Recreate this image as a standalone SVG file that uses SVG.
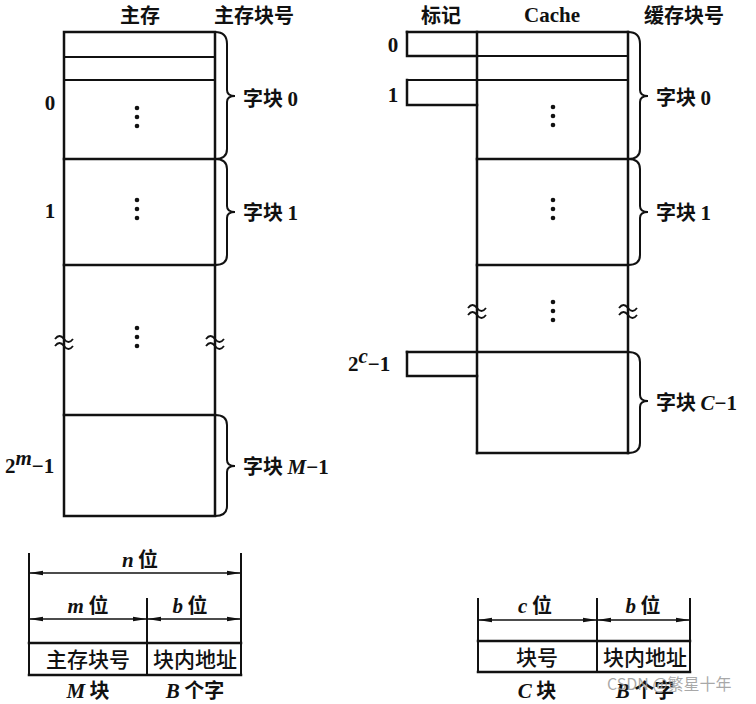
<svg xmlns="http://www.w3.org/2000/svg" width="756" height="704" viewBox="0 0 756 704">
<defs>
<style>
.ln{stroke:#111;stroke-width:2.5;fill:none;stroke-linecap:square}
.th{stroke:#111;stroke-width:2;fill:none}
.br{stroke:#111;stroke-width:2;fill:none}
.ar{stroke:#111;stroke-width:1.6;fill:none}
.zh{font-family:"Noto Sans CJK SC","Noto Sans",sans-serif;font-weight:700;font-size:20px;fill:#111}
.zr{font-family:"Noto Sans CJK SC","Noto Sans",sans-serif;font-weight:500;font-size:21px;fill:#111}
.sf{font-family:"Liberation Serif","DejaVu Serif",serif;font-weight:700;font-size:21px;fill:#111}
.it{font-family:"Liberation Serif","DejaVu Serif",serif;font-weight:700;font-style:italic;font-size:21px;fill:#111}
.dot{fill:#111}
.wv{stroke:#111;stroke-width:1.8;fill:none}
.wm{font-family:"Noto Sans CJK SC","Noto Sans",sans-serif;font-size:16px;fill:#999;fill-opacity:0.85}
</style>
<marker id="ah" viewBox="0 0 14 6" refX="13" refY="3" markerWidth="14" markerHeight="6" markerUnits="userSpaceOnUse" orient="auto-start-reverse">
<path d="M0,0.8 L14,3 L0,5.2 Z" fill="#111"/>
</marker>
<g id="dots3"><circle cx="0" cy="0" r="2.3"/><circle cx="0" cy="9" r="2.3"/><circle cx="0" cy="18" r="2.3"/></g>
<g id="wave"><path d="M-9,-2 q4.5,-6 9,0 t9,0"/><path d="M-9,5 q4.5,-6 9,0 t9,0"/></g>
</defs>
<rect width="756" height="704" fill="#fff"/>

<!-- Headers -->
<g id="headers">
<text class="zh" x="140" y="23" text-anchor="middle">主存</text>
<text class="zh" x="254" y="23" text-anchor="middle">主存块号</text>
<text class="zh" x="441" y="23" text-anchor="middle">标记</text>
<text class="sf" x="552" y="22" text-anchor="middle">Cache</text>
<text class="zh" x="684" y="23" text-anchor="middle">缓存块号</text>
</g>

<!-- Main memory -->
<g id="main-memory">
<rect class="ln" x="64" y="32" width="151" height="484"/>
<line class="th" x1="64" y1="57" x2="215" y2="57"/>
<line class="th" x1="64" y1="80" x2="215" y2="80"/>
<line class="ln" x1="64" y1="159" x2="215" y2="159"/>
<line class="ln" x1="64" y1="265" x2="215" y2="265"/>
<line class="ln" x1="64" y1="415" x2="215" y2="415"/>
<g class="dot"><use href="#dots3" x="137" y="108"/><use href="#dots3" x="137" y="200"/><use href="#dots3" x="137" y="328"/></g>
<g class="wv"><use href="#wave" x="64" y="341"/><use href="#wave" x="215" y="341"/></g>
<text class="sf" x="50" y="110" text-anchor="middle">0</text>
<text class="sf" x="50" y="218" text-anchor="middle">1</text>
<text class="sf" x="5" y="473">2<tspan class="it" font-size="13" dy="-8">m</tspan><tspan dy="8">−1</tspan></text>
</g>

<g id="main-braces">
<path class="br" d="M215,32 Q227,32 227,44 L227,90 Q227,96 235,96 Q227,96 227,102 L227,149 Q227,159 215,159"/>
<path class="br" d="M215,159 Q227,159 227,169 L227,206 Q227,212 235,212 Q227,212 227,218 L227,255 Q227,265 215,265"/>
<path class="br" d="M215,415 Q227,415 227,425 L227,460 Q227,466 235,466 Q227,466 227,472 L227,506 Q227,516 215,516"/>
<text class="zh" x="243" y="106">字块 <tspan class="sf">0</tspan></text>
<text class="zh" x="243" y="220">字块 <tspan class="sf">1</tspan></text>
<text class="zh" x="243" y="474">字块 <tspan class="it">M</tspan><tspan class="sf">−1</tspan></text>
</g>

<!-- Cache -->
<g id="cache">
<line class="ln" x1="477" y1="32" x2="477" y2="453"/>
<line class="ln" x1="628" y1="32" x2="628" y2="453"/>
<line class="ln" x1="477" y1="453" x2="628" y2="453"/>
<line class="ln" x1="407" y1="32" x2="628" y2="32"/>
<line class="th" x1="407" y1="56" x2="628" y2="56"/>
<line class="th" x1="407" y1="80" x2="628" y2="80"/>
<line class="ln" x1="477" y1="159" x2="628" y2="159"/>
<line class="ln" x1="477" y1="265" x2="628" y2="265"/>
<line class="ln" x1="407" y1="352" x2="628" y2="352"/>
<g class="dot"><use href="#dots3" x="553" y="107"/><use href="#dots3" x="553" y="200"/><use href="#dots3" x="553" y="302"/></g>
<g class="wv"><use href="#wave" x="477" y="310"/><use href="#wave" x="628" y="310"/></g>
</g>

<g id="tags">
<path class="ln" d="M407,32 L407,56 L477,56"/>
<path class="ln" d="M407,80 L407,105 L477,105"/>
<path class="ln" d="M407,352 L407,376 L477,376"/>
<text class="sf" x="393" y="52" text-anchor="middle">0</text>
<text class="sf" x="393" y="102" text-anchor="middle">1</text>
<text class="sf" x="348" y="371">2<tspan class="it" font-size="13" dy="-8">c</tspan><tspan dy="8">−1</tspan></text>
</g>

<g id="cache-braces">
<path class="br" d="M628,32 Q640,32 640,44 L640,90 Q640,96 648,96 Q640,96 640,102 L640,149 Q640,159 628,159"/>
<path class="br" d="M628,159 Q640,159 640,169 L640,206 Q640,212 648,212 Q640,212 640,218 L640,255 Q640,265 628,265"/>
<path class="br" d="M628,352 Q640,352 640,362 L640,395 Q640,401 648,401 Q640,401 640,407 L640,443 Q640,453 628,453"/>
<text class="zh" x="656" y="105">字块 <tspan class="sf">0</tspan></text>
<text class="zh" x="656" y="220">字块 <tspan class="sf">1</tspan></text>
<text class="zh" x="656" y="410">字块 <tspan class="it">C</tspan><tspan class="sf">−1</tspan></text>
</g>

<!-- Main memory address format -->
<g id="main-address">
<line class="th" x1="29" y1="553" x2="29" y2="675"/>
<line class="th" x1="241" y1="553" x2="241" y2="675"/>
<line class="th" x1="147" y1="598" x2="147" y2="675"/>
<line class="ln" x1="29" y1="643" x2="241" y2="643"/>
<line class="ln" x1="29" y1="675" x2="241" y2="675"/>
<text class="zr" x="88" y="667" text-anchor="middle">主存块号</text>
<text class="zr" x="195" y="667" text-anchor="middle">块内地址</text>
<text class="zh" x="140" y="567" text-anchor="middle"><tspan class="it">n</tspan> 位</text>
<text class="zh" x="88" y="613" text-anchor="middle"><tspan class="it">m</tspan> 位</text>
<text class="zh" x="190" y="613" text-anchor="middle"><tspan class="it">b</tspan> 位</text>
<text class="zh" x="88" y="698" text-anchor="middle"><tspan class="it">M</tspan> 块</text>
<text class="zh" x="195" y="698" text-anchor="middle"><tspan class="it">B</tspan> 个字</text>
</g>

<!-- Cache address format -->
<g id="cache-address">
<line class="th" x1="478" y1="598" x2="478" y2="672"/>
<line class="th" x1="690" y1="598" x2="690" y2="672"/>
<line class="th" x1="597" y1="598" x2="597" y2="672"/>
<line class="ln" x1="478" y1="641" x2="690" y2="641"/>
<line class="ln" x1="478" y1="672" x2="690" y2="672"/>
<text class="zr" x="537" y="665" text-anchor="middle">块号</text>
<text class="zr" x="645" y="665" text-anchor="middle">块内地址</text>
<text class="zh" x="535" y="613" text-anchor="middle"><tspan class="it">c</tspan> 位</text>
<text class="zh" x="643" y="613" text-anchor="middle"><tspan class="it">b</tspan> 位</text>
<text class="zh" x="537" y="698" text-anchor="middle"><tspan class="it">C</tspan> 块</text>
<text class="zh" x="645" y="698" text-anchor="middle"><tspan class="it">B</tspan> 个字</text>
</g>

<g id="connectors">
<line class="ar" x1="30" y1="573" x2="240" y2="573" marker-start="url(#ah)" marker-end="url(#ah)"/>
<line class="ar" x1="30" y1="619" x2="146" y2="619" marker-start="url(#ah)" marker-end="url(#ah)"/>
<line class="ar" x1="148" y1="619" x2="240" y2="619" marker-start="url(#ah)" marker-end="url(#ah)"/>
<line class="ar" x1="479" y1="620" x2="596" y2="620" marker-start="url(#ah)" marker-end="url(#ah)"/>
<line class="ar" x1="598" y1="620" x2="689" y2="620" marker-start="url(#ah)" marker-end="url(#ah)"/>
</g>

<text class="wm" x="607" y="690">CSDN @繁星十年</text>
</svg>
